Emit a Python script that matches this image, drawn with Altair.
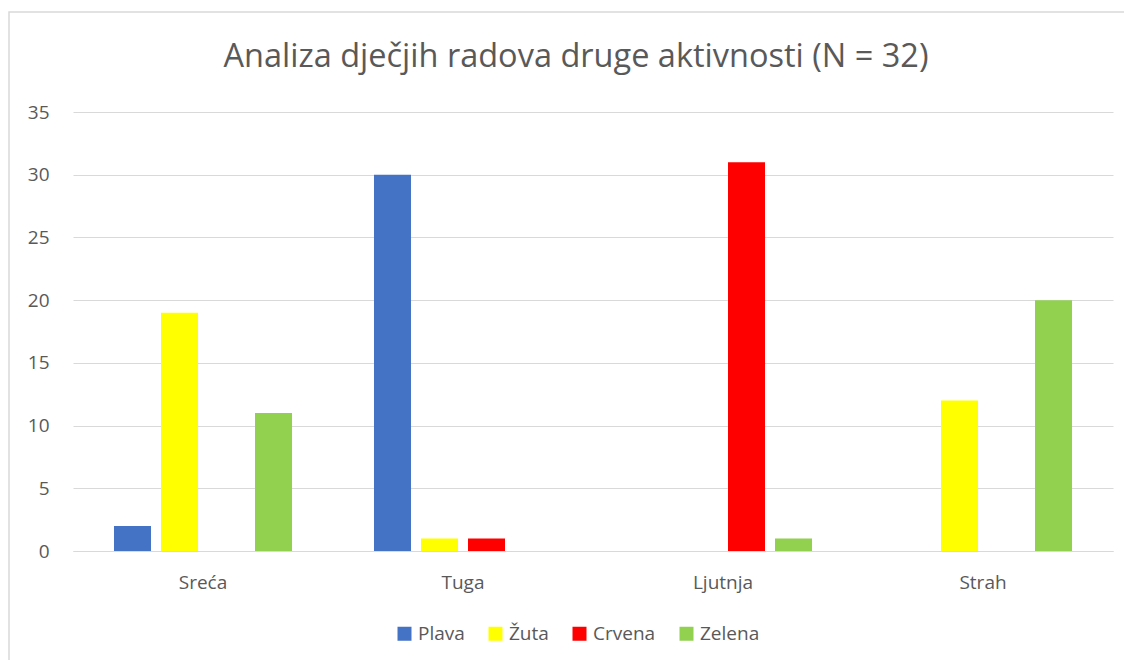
import altair as alt
import pandas as pd

title_text = "Analiza dječjih radova druge aktivnosti (N = 32)"
categories = ["Sreća", "Tuga", "Ljutnja", "Strah"]
series = ["Plava", "Žuta", "Crvena", "Zelena"]
colors = ["#4472C4", "#FFFF00", "#FF0000", "#92D050"]
plava = [2, 30, 0, 0]
zuta = [19, 1, 0, 12]
crvena = [0, 1, 31, 0]
zelena = [11, 0, 1, 20]

rows = []
for name, vals in zip(series, [plava, zuta, crvena, zelena]):
    for c, v in zip(categories, vals):
        rows.append({"Emocija": c, "Boja": name, "Broj": v})
df = pd.DataFrame(rows)

FONT = "Open Sans"
GREY = "#595959"
LBL = 19

bars = alt.Chart(df).mark_bar().encode(
    x=alt.X("Emocija:N", sort=categories,
            scale=alt.Scale(paddingInner=0, paddingOuter=0),
            axis=alt.Axis(title=None, labelAngle=0, labelFontSize=LBL, labelColor=GREY,
                          labelFont=FONT, ticks=False, domainColor="#D9D9D9",
                          labelPadding=22)),
    xOffset=alt.XOffset("Boja:N", sort=series,
                        scale=alt.Scale(paddingInner=0.213, paddingOuter=0.872)),
    y=alt.Y("Broj:Q", scale=alt.Scale(domain=[0, 35]),
            axis=alt.Axis(title=None, values=[0, 5, 10, 15, 20, 25, 30, 35],
                          labelFontSize=LBL, labelColor=GREY, labelFont=FONT,
                          ticks=False, domain=False, gridColor="#D9D9D9",
                          labelPadding=24)),
    color=alt.Color("Boja:N", sort=series,
                    scale=alt.Scale(domain=series, range=colors),
                    legend=alt.Legend(title=None, orient="none", direction="horizontal",
                                      legendX=322, legendY=512,
                                      symbolType="square", symbolSize=196,
                                      symbolStrokeWidth=0,
                                      labelFontSize=LBL, labelColor=GREY, labelFont=FONT,
                                      columnPadding=21, labelOffset=4)),
)

one = pd.DataFrame({"t": [title_text]})

frame = alt.Chart(one).mark_rect(
    fill=None, stroke="#D9D9D9", strokeWidth=1.5
).encode(
    x=alt.value(-64), x2=alt.value(1100), y=alt.value(-100), y2=alt.value(700)
)

title = alt.Chart(one).mark_text(
    font=FONT, fontSize=32.5, color=GREY, align="center", baseline="alphabetic"
).encode(
    text="t:N", x=alt.value(503), y=alt.value(-45)
)

chart = alt.layer(frame, title, bars).properties(
    width=1040, height=439,
    autosize=alt.AutoSizeParams(type="none"),
    padding={"left": 65, "top": 104, "right": 11, "bottom": 109},
).configure_view(stroke=None)

chart.save("out.html", embed_options={"renderer": "svg", "actions": False})
